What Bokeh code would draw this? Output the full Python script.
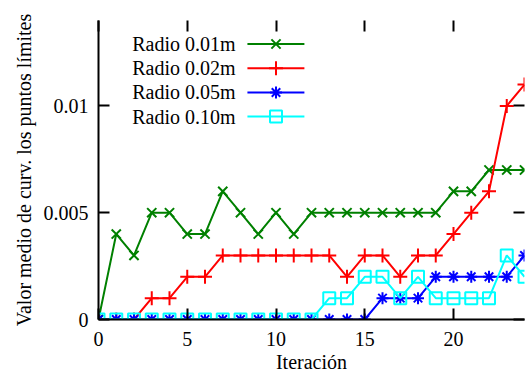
import math
from bokeh.plotting import figure
from bokeh.models import LinearAxis, FixedTicker, Title, ColumnDataSource
from bokeh.core.properties import value
from bokeh.embed import file_html
from bokeh.resources import INLINE

iteracion = list(range(25))
radio_001 = [0, 0.004, 0.003, 0.005, 0.005, 0.004, 0.004, 0.006, 0.005, 0.004,
             0.005, 0.004, 0.005, 0.005, 0.005, 0.005, 0.005, 0.005, 0.005, 0.005,
             0.006, 0.006, 0.007, 0.007, 0.007]
radio_002 = [0, 0, 0, 0.001, 0.001, 0.002, 0.002, 0.003, 0.003, 0.003,
             0.003, 0.003, 0.003, 0.003, 0.002, 0.003, 0.003, 0.002, 0.003, 0.003,
             0.004, 0.005, 0.006, 0.010, 0.011]
radio_005 = [0, 0, 0, 0, 0, 0, 0, 0, 0, 0,
             0, 0, 0, 0, 0, 0, 0.001, 0.001, 0.001, 0.002,
             0.002, 0.002, 0.002, 0.002, 0.003]
radio_010 = [0, 0, 0, 0, 0, 0, 0, 0, 0, 0,
             0, 0, 0, 0.001, 0.001, 0.002, 0.002, 0.001, 0.002, 0.001,
             0.001, 0.001, 0.001, 0.003, 0.002]
series_names = ["Radio 0.01m", "Radio 0.02m", "Radio 0.05m", "Radio 0.10m"]
x_ticks = [0, 5, 10, 15, 20]
y_ticks = [0, 0.005, 0.01]
y_tick_labels = ["0", "0.005", "0.01"]
x_label = "Iteración"
y_label = "Valor medio de curv. los puntos límites"

FONT = "'Liberation Serif'"
FS = "20px"

p = figure(width=530, height=375, x_range=(0, 24), y_range=(0, 0.014),
           output_backend="svg", toolbar_location=None,
           x_axis_type=None, y_axis_type=None,
           min_border_left=98, min_border_right=6, min_border_top=20, min_border_bottom=56)
p.grid.visible = False
p.outline_line_color = None
p.background_fill_color = "white"
p.border_fill_color = "white"

def style_axis(ax, labels=True):
    ax.axis_line_color = "black"
    ax.axis_line_width = 2
    ax.major_tick_in = 11
    ax.major_tick_out = 0
    ax.minor_tick_in = 0
    ax.minor_tick_out = 0
    ax.major_tick_line_width = 2
    ax.major_tick_line_color = "black"
    ax.major_label_text_font = FONT
    ax.major_label_text_font_size = FS if labels else "1px"
    ax.major_label_text_color = "black"

xb = LinearAxis(ticker=FixedTicker(ticks=x_ticks), axis_label=x_label)
style_axis(xb)
xb.major_label_standoff = 12
xb.axis_label_text_font = FONT
xb.axis_label_text_font_size = FS
xb.axis_label_text_font_style = "normal"
xb.axis_label_text_color = "black"
xb.axis_label_standoff = 2
p.add_layout(xb, "below")

yl = LinearAxis(ticker=FixedTicker(ticks=y_ticks))
style_axis(yl)
yl.major_label_overrides = {t: s for t, s in zip(y_ticks, y_tick_labels)}
yl.major_label_standoff = 10
p.add_layout(yl, "left")

ytitle = Title(text=y_label, align="center", offset=-20, standoff=12,
               text_font=FONT, text_font_size=FS, text_font_style="normal",
               text_color="black")
p.add_layout(ytitle, "left")

xt = LinearAxis(ticker=FixedTicker(ticks=x_ticks))
style_axis(xt, labels=False)
xt.axis_line_alpha = 0
xt.major_label_standoff = 0
xt.major_label_overrides = {t: "" for t in x_ticks}
p.add_layout(xt, "above")

yr = LinearAxis(ticker=FixedTicker(ticks=y_ticks))
style_axis(yr, labels=False)
yr.axis_line_alpha = 0
yr.major_label_standoff = 0
yr.major_label_overrides = {t: "" for t in y_ticks}
p.add_layout(yr, "right")

colors = ["#008000", "#ff0000", "#0000ff", "#00ffff"]
markers = ["x", "cross", "asterisk", "square"]
sizes = [13, 14, 12, 12]
data = [radio_001, radio_002, radio_005, radio_010]

for ys, c, m, s in zip(data, colors, markers, sizes):
    src = ColumnDataSource(dict(x=iteracion, y=ys))
    p.line("x", "y", source=src, line_color=c, line_width=2)
    p.scatter("x", "y", source=src, marker=m, size=s, line_color=c,
              fill_color=None, line_width=2)

# key (gnuplot-style: text right, sample on the right)
key_text_x = 7.72
key_line_x0, key_line_x1, key_mark_x = 8.39, 11.6, 10.0
key_y = [0.0129, 0.01177, 0.01063, 0.00950]
p.text(x=[key_text_x] * 4, y=key_y, text=series_names, text_align="right",
       text_baseline="middle", text_font=value(FONT), text_font_size=FS,
       text_color="black")
for yy, c, m, s in zip(key_y, colors, markers, sizes):
    p.segment(x0=[key_line_x0], y0=[yy], x1=[key_line_x1], y1=[yy],
              line_color=c, line_width=2)
    p.scatter(x=[key_mark_x], y=[yy], marker=m, size=s, line_color=c,
              fill_color=None, line_width=2)

open("out.html", "w").write(file_html(p, INLINE))
